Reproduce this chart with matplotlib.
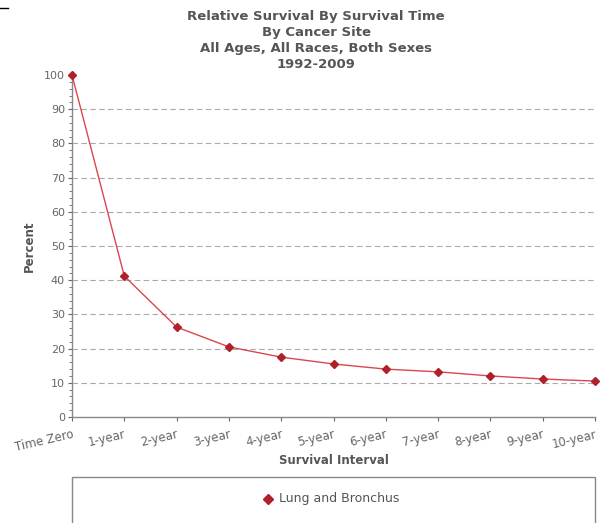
import matplotlib
matplotlib.use("Agg")
import matplotlib.pyplot as plt
from matplotlib.patches import Rectangle
from matplotlib.lines import Line2D
from matplotlib.ticker import MultipleLocator

categories = ["Time Zero", "1-year", "2-year", "3-year", "4-year", "5-year",
              "6-year", "7-year", "8-year", "9-year", "10-year"]
survival = [100, 41.2, 26.3, 20.5, 17.5, 15.5, 14.0, 13.2, 12.0, 11.1, 10.5]
series_name = "Lung and Bronchus"
title_lines = ["Relative Survival By Survival Time", "By Cancer Site",
               "All Ages, All Races, Both Sexes", "1992-2009"]

plt.rcParams['font.family'] = ['DejaVu Sans']
grey = "#555555"
tickgrey = "#666666"

fig = plt.figure(figsize=(6.0, 5.23), dpi=100)
ax = fig.add_axes([0.12, 0.2027, 0.8717, 0.6539])

x = list(range(len(categories)))
ax.plot(x, survival, color="#d9474f", lw=1.0, zorder=3, clip_on=False)
ax.plot(x, survival, ls="none", marker="D", ms=4.5, color="#b0202a", zorder=4, clip_on=False)

ax.set_xlim(0, len(categories) - 1)
ax.set_ylim(0, 100)
ax.yaxis.set_major_locator(MultipleLocator(10))
ax.yaxis.set_minor_locator(MultipleLocator(2))
for yv in range(10, 100, 10):
    ax.axhline(yv, color="#aaaaaa", lw=0.8, ls=(0, (5, 3)), zorder=1)

ax.set_xticks(x)
ax.set_xticklabels(categories, rotation=13, ha="right", rotation_mode="anchor",
                   fontsize=8.5, color=tickgrey)
ax.tick_params(axis="y", labelsize=8, colors=tickgrey, length=3, width=0.8, pad=2)
ax.tick_params(axis="y", which="minor", length=2, width=0.6, colors=tickgrey)
ax.tick_params(axis="x", length=3, width=0.8, colors=tickgrey, pad=5)
for lab in ax.get_xticklabels():
    lab.set_color(tickgrey)

for s in ["top", "right"]:
    ax.spines[s].set_visible(False)
for s in ["left", "bottom"]:
    ax.spines[s].set_color("#888888")
    ax.spines[s].set_linewidth(1.0)

ax.set_ylabel("Percent", fontsize=8.5, fontweight="bold", color=grey, labelpad=6)
ax.set_xlabel("Survival Interval", fontsize=8.5, fontweight="bold", color=grey, labelpad=0)

fig.text(0.527, 0.980, "\n".join(title_lines), ha="center", va="top",
         fontsize=9.5, fontweight="bold", color=grey, linespacing=1.27)

# legend box
fig.patches.append(Rectangle((0.12, -0.05), 0.8717, 0.138, transform=fig.transFigure,
                             fill=False, edgecolor="#888888", lw=1.0))
fig.lines.append(Line2D([0.4467], [0.046], transform=fig.transFigure, marker="D",
                        ms=5, color="#b0202a", ls="none"))
fig.text(0.465, 0.046, series_name, ha="left", va="center", fontsize=9, color=grey)

# short mark at top left
fig.lines.append(Line2D([0.0, 0.014], [0.985, 0.985], transform=fig.transFigure,
                        color="black", lw=1.0))

fig.savefig("out.png", dpi=100)
